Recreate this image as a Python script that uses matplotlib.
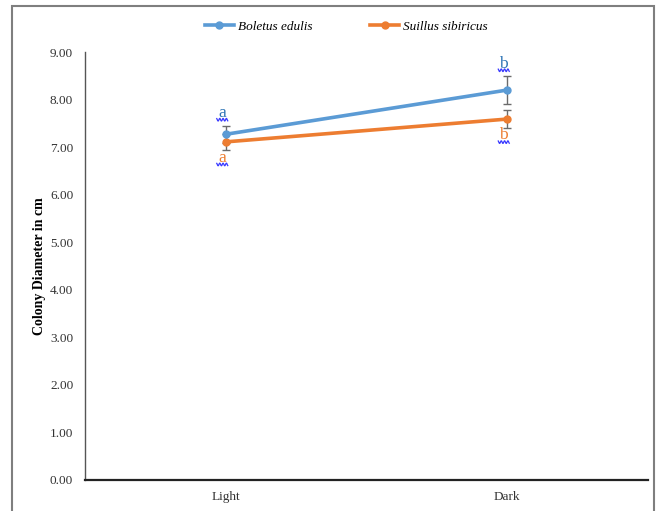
import matplotlib

matplotlib.use("Agg")
import matplotlib.pyplot as plt
import numpy as np
from matplotlib.lines import Line2D
from matplotlib.patches import Rectangle
from matplotlib.transforms import IdentityTransform

plt.rcParams["font.family"] = ["Liberation Serif", "DejaVu Serif"]

# データ
conditions = ["Light", "Dark"]
boletus_mean = [7.27, 8.20]
boletus_err = [0.18, 0.29]
suillus_mean = [7.11, 7.59]
suillus_err = [0.17, 0.18]
boletus_letters = ["a", "b"]
suillus_letters = ["a", "b"]

BLUE = "#5B9BD5"
ORANGE = "#ED7D31"

fig = plt.figure(figsize=(6.57, 5.11), dpi=100)
ax = fig.add_axes([85 / 657, 1 - 480 / 511, 563 / 657, 428 / 511])

x = np.arange(len(conditions))

ax.errorbar(x, boletus_mean, yerr=boletus_err, fmt="none", ecolor="#6b6b6b",
            elinewidth=1.0, capsize=2.6, capthick=1.0, zorder=2)
ax.errorbar(x, suillus_mean, yerr=suillus_err, fmt="none", ecolor="#6b6b6b",
            elinewidth=1.0, capsize=2.6, capthick=1.0, zorder=2)
ax.plot(x, boletus_mean, color=BLUE, lw=2.6, marker="o", ms=5,
        label="Boletus edulis", zorder=4)
ax.plot(x, suillus_mean, color=ORANGE, lw=2.6, marker="o", ms=5,
        label="Suillus sibiricus", zorder=3)

ax.set_xlim(-0.5, 1.5)
ax.set_ylim(0, 9)


def squiggle(xv, yv, dx_px, dy_px):
    # 文字の下の波線（ピクセル単位）
    px, py = ax.transData.transform((xv, yv))
    t = np.linspace(-5.5, 5.5, 60)
    ys = py + dy_px + 1.3 * np.sin(t * 1.9)
    fig.add_artist(Line2D(px + dx_px + t, ys, color="#3a3aff", lw=0.9,
                          transform=IdentityTransform(), zorder=5))


# 有意差の文字
for xi, m, e, s in zip(x, boletus_mean, boletus_err, boletus_letters):
    ax.annotate(s, (xi, m + e), xytext=(-2.5, 6), textcoords="offset points",
                ha="center", va="baseline", fontsize=12.5, color="#2E75B6",
                zorder=6)
    squiggle(xi, m + e, -3.5, 6)
for xi, m, e, s in zip(x, suillus_mean, suillus_err, suillus_letters):
    ax.annotate(s, (xi, m - e), xytext=(-2.5, -8.5), textcoords="offset points",
                ha="center", va="baseline", fontsize=12.5, color=ORANGE,
                zorder=6)
    squiggle(xi, m - e, -3.5, -14.5)

ax.set_yticks(np.arange(0, 9.01, 1.0))
ax.set_yticklabels([f"{v:.2f}" for v in np.arange(0, 9.01, 1.0)])
ax.set_xticks(x)
ax.set_xticklabels(conditions)
ax.tick_params(axis="both", length=0, labelsize=9.5, colors="#333333")
ax.tick_params(axis="y", pad=8.5)
ax.tick_params(axis="x", pad=8)

for side in ["top", "right"]:
    ax.spines[side].set_visible(False)
ax.spines["left"].set_color("#555555")
ax.spines["left"].set_linewidth(1.0)
ax.spines["bottom"].set_color("#222222")
ax.spines["bottom"].set_linewidth(1.6)

ax.set_ylabel("Colony Diameter in cm", fontsize=10, fontweight="bold", labelpad=3)

leg = fig.legend(loc="center", bbox_to_anchor=(0.527, 1 - 27 / 511), ncol=2,
                 frameon=False, prop={"style": "italic", "size": 9.5},
                 handlelength=2.2, columnspacing=4.4, handletextpad=0.3)

# 外枠
fig.patches.append(Rectangle((12 / 657, -0.05), 642 / 657, 1 - 6 / 511 + 0.05,
                             transform=fig.transFigure, fill=False,
                             edgecolor="#7f7f7f", lw=1.5))

fig.savefig("out.png", dpi=100)
